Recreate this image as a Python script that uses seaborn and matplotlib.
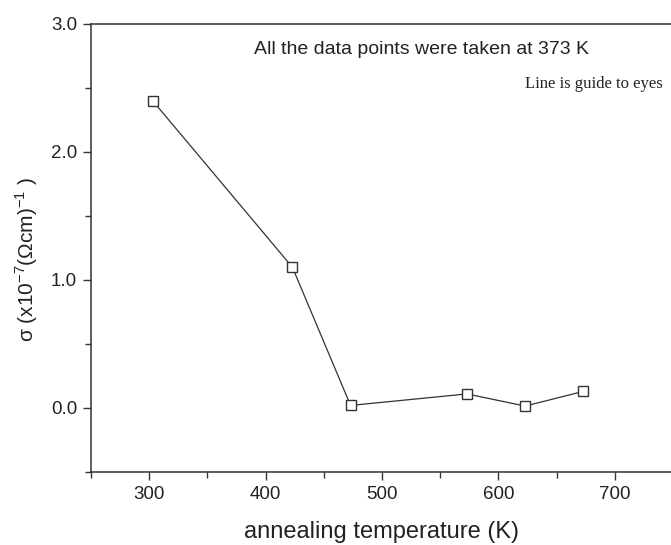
import numpy as np
import pandas as pd
import matplotlib
matplotlib.use("Agg")
import matplotlib.pyplot as plt
from matplotlib.ticker import MultipleLocator
import seaborn as sns

# annealing temperature (K) and conductivity measured at 373 K
temperature = [303, 423, 473, 573, 623, 673]
sigma = [2.40, 1.10, 0.02, 0.11, 0.015, 0.13]

df = pd.DataFrame({'T': temperature, 'sigma': sigma})

sns.set_style('ticks')
plt.rcParams['font.family'] = ['Liberation Sans', 'DejaVu Sans']
plt.rcParams['mathtext.fontset'] = 'custom'
plt.rcParams['mathtext.rm'] = 'Liberation Sans'

fig = plt.figure(figsize=(6.71, 5.45), dpi=100)
ax = fig.add_axes([91 / 671, 1 - 472 / 545, (673 - 91) / 671, (472 - 24) / 545])

sns.lineplot(data=df, x='T', y='sigma', ax=ax, color='#333333', linewidth=0.9,
             marker='s', markersize=6.5, markerfacecolor='white',
             markeredgecolor='#333333', markeredgewidth=1.0)

ax.set_xlim(250, 750)
ax.set_ylim(-0.5, 3.0)
ax.set_xticks([300, 400, 500, 600, 700])
ax.set_yticks([0.0, 1.0, 2.0, 3.0])
ax.set_yticklabels(['0.0', '1.0', '2.0', '3.0'])
ax.xaxis.set_minor_locator(MultipleLocator(50))
ax.yaxis.set_minor_locator(MultipleLocator(0.5))
ax.tick_params(which='major', length=6, width=1.0, color='#333333',
               labelsize=13.5, labelcolor='#222222', pad=4)
ax.tick_params(which='minor', length=4, width=1.0, color='#333333')

ax.spines['right'].set_visible(False)
for s in ['left', 'bottom', 'top']:
    ax.spines[s].set_linewidth(1.1)
    ax.spines[s].set_color('#333333')

ax.set_xlabel('annealing temperature (K)', fontsize=17, color='#222222', labelpad=13)
ax.set_ylabel(r'σ (x10$^{\mathregular{-7}}$(Ωcm)$^{\mathregular{-1}}$ )',
              fontsize=15, color='#222222')
ax.yaxis.set_label_coords(-0.088, 0.475)

ax.text(0.568, 0.943, 'All the data points were taken at 373 K', transform=ax.transAxes,
        ha='center', va='center', fontsize=14, color='#222222')
ax.text(0.983, 0.865, 'Line is guide to eyes', transform=ax.transAxes,
        ha='right', va='center', fontsize=12, color='#222222',
        family=['Liberation Serif', 'DejaVu Serif'])

fig.savefig('out.png', dpi=100)
